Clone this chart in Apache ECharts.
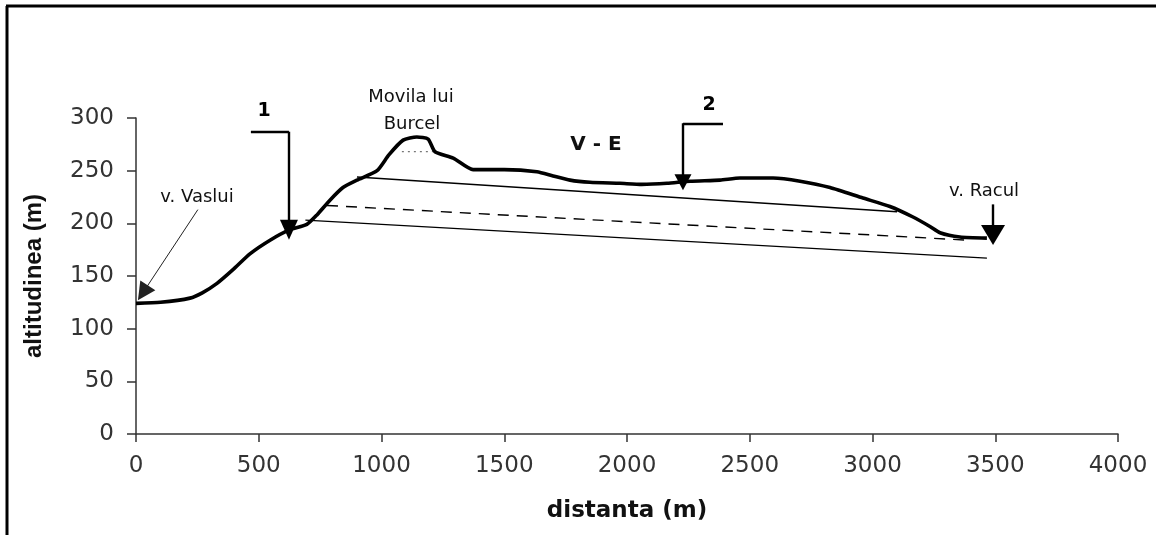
<!DOCTYPE html>
<html><head><meta charset="utf-8">
<script src="https://cdn.jsdelivr.net/npm/echarts@6/dist/echarts.min.js"></script>
<style>html,body{margin:0;padding:0;background:#fff}#c{width:1156px;height:535px}</style>
</head><body><div id="c"></div>
<script>
// profile V - E
const distance = [0,100,220,270,330,395,464,546,627,696,737,790,843,900,982,1030,1088,1144,1190,1218,1292,1373,1500,1633,1699,1768,1849,1971,2060,2163,2257,2379,2460,2595,2705,2827,2961,3071,3165,3234,3275,3356,3466];
const altitude = [124,125,129,134,143,156,171,184,194,199,208,222,234,241,250,265,279,282,280,268,262,251,251,249,245,241,239,238,237,238,240,241,243,243,240,234,224,216,206,197,191,187,186];
// straight reference lines [start, end] as [distance, altitude]
const upperLine = [[900,244],[3100,211]];
const dashedLine = [[778,217],[3390,184]];
const lowerLine = [[690,203],[3466,167]];
const summitLine = [[1083,268],[1226,268]];
// annotation arrows in data units
const arrowVaslui = [[252,213],[28,134]];
const arrowRacul = [[3491,218],[3491,189]];
const section1 = [[468,287],[623,287],[623,194]];
const section2 = [[2391,295],[2228,295],[2228,239]];
const xMin = 0, xMax = 4000, xStep = 500;
const yMin = 0, yMax = 300, yStep = 50;

const profile = distance.map((d,i)=>[d, altitude[i]]);
const ink = '#000';
function seg(p, q, endSym, size){
  return [{coord:p, symbol:'none'},{coord:q, symbol:endSym||'none', symbolSize:size||[16,18]}];
}
const chart = echarts.init(document.getElementById('c'));
const thin = {color: ink, width: 1.4};
chart.setOption({
  animation:false,
  backgroundColor:'#fff',
  grid:{left:136, right:38, top:118, bottom:101},
  xAxis:{type:'value', min:xMin, max:xMax, interval:xStep,
    name:'distanta (m)', nameLocation:'middle', nameGap:66,
    nameTextStyle:{fontFamily:'DejaVu Sans', fontWeight:'bold', fontSize:23, color:'#111'},
    axisLine:{lineStyle:{color:'#333', width:1.5}},
    axisTick:{length:8, lineStyle:{color:'#333', width:1.5}},
    axisLabel:{margin:21, fontFamily:'DejaVu Sans', fontSize:23, color:'#333', formatter:v=>String(v)},
    splitLine:{show:false}},
  yAxis:{type:'value', min:yMin, max:yMax, interval:yStep,
    name:'altitudinea (m)', nameLocation:'middle', nameGap:90,
    nameTextStyle:{fontFamily:'Liberation Sans', fontWeight:'bold', fontSize:24, color:'#111'},
    axisLine:{show:true, lineStyle:{color:'#333', width:1.5}},
    axisTick:{show:true, length:9, lineStyle:{color:'#333', width:1.5}},
    axisLabel:{margin:22, fontFamily:'DejaVu Sans', fontSize:23, color:'#333', formatter:v=>String(v)},
    splitLine:{show:false}},
  series:[
    {type:'line', data:upperLine, symbol:'none', lineStyle:thin},
    {type:'line', data:dashedLine, symbol:'none', lineStyle:{color:ink, width:1.4, type:[11,8]}},
    {type:'line', data:lowerLine, symbol:'none', lineStyle:thin},
    {type:'line', data:summitLine, symbol:'none', lineStyle:{color:'#555', width:1, type:[2,4]}},
    {type:'line', data:profile, symbol:'none', smooth:0.2, lineStyle:{color:ink, width:3.6},
      markLine:{silent:true, label:{show:false}, symbol:['none','none'],
        lineStyle:{color:ink, type:'solid', width:2.4},
        data:[
          seg(section1[0], section1[1]),
          seg(section1[1], section1[2], 'triangle', [18,20]),
          seg(section2[0], section2[1]),
          seg(section2[1], section2[2], 'triangle', [17,16]),
          seg(arrowRacul[0], arrowRacul[1], 'triangle', [24,20]),
          [{coord:arrowVaslui[0], symbol:'none', lineStyle:{width:1, color:'#222'}},{coord:arrowVaslui[1], symbol:'triangle', symbolSize:[18,18]}]
        ]}}
  ],
  graphic:[
    {type:'line', shape:{x1:7, y1:6, x2:7, y2:540}, style:{stroke:'#000', lineWidth:3}},
    {type:'line', shape:{x1:6, y1:6, x2:1160, y2:6}, style:{stroke:'#000', lineWidth:3}},
    {type:'text', x:411, y:97, style:{text:'Movila lui', font:'18px "DejaVu Sans"', fill:'#111', align:'center', verticalAlign:'middle'}},
    {type:'text', x:412, y:124, style:{text:'Burcel', font:'18px "DejaVu Sans"', fill:'#111', align:'center', verticalAlign:'middle'}},
    {type:'text', x:596, y:145, style:{text:'V - E', font:'bold 20px "DejaVu Sans"', fill:'#111', align:'center', verticalAlign:'middle'}},
    {type:'text', x:264, y:111, style:{text:'1', font:'bold 19px "DejaVu Sans"', fill:'#000', align:'center', verticalAlign:'middle'}},
    {type:'text', x:709, y:105, style:{text:'2', font:'bold 19px "DejaVu Sans"', fill:'#000', align:'center', verticalAlign:'middle'}},
    {type:'text', x:197, y:197, style:{text:'v. Vaslui', font:'18px "DejaVu Sans"', fill:'#111', align:'center', verticalAlign:'middle'}},
    {type:'text', x:984, y:191, style:{text:'v. Racul', font:'18px "DejaVu Sans"', fill:'#111', align:'center', verticalAlign:'middle'}}
  ]
});
</script></body></html>
